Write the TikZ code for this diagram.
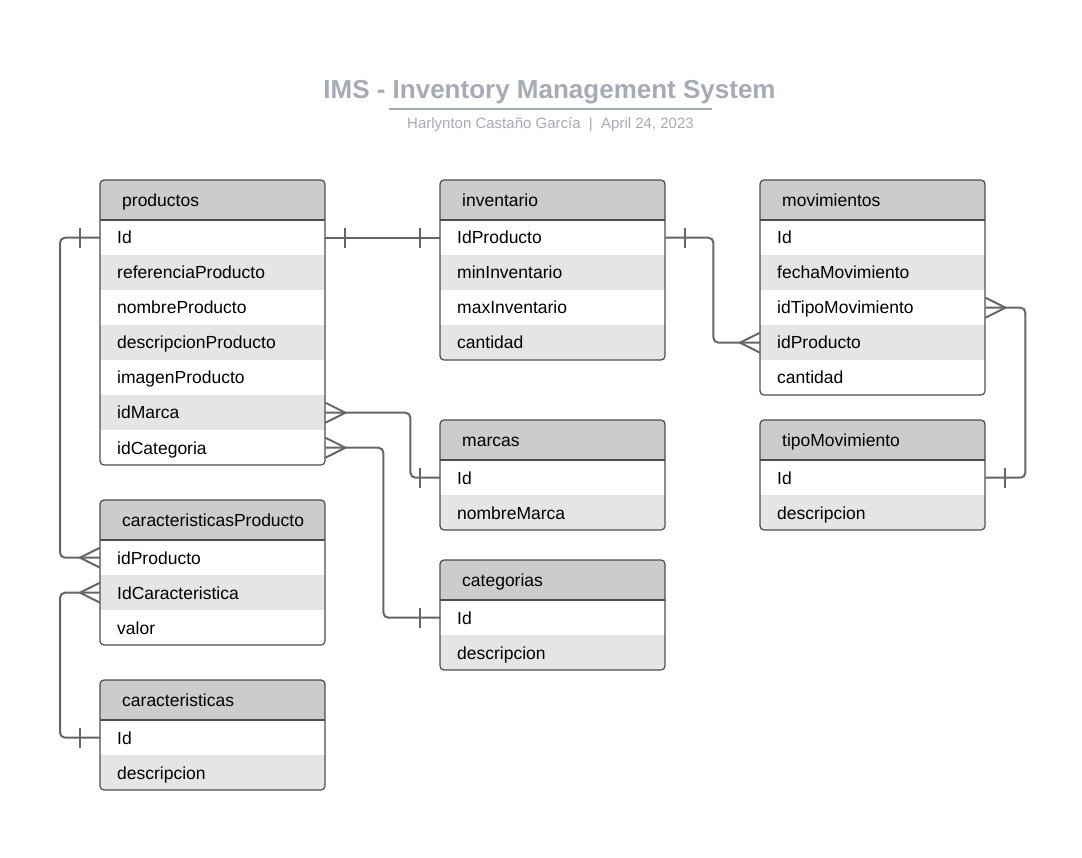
\documentclass[tikz,border=0pt]{standalone}
\usepackage{fontspec}
\setmainfont{Liberation Sans}
\usetikzlibrary{calc}
\definecolor{hdrfill}{HTML}{CCCCCC}
\definecolor{stripe}{HTML}{E5E5E5}
\definecolor{bordercol}{HTML}{4D4D4D}
\definecolor{conncol}{HTML}{666666}
\definecolor{titlecol}{HTML}{A6ABB5}
\tikzset{
  rowbox/.style={rectangle, inner xsep=17pt, inner ysep=0pt, text width=191pt,
    minimum height=35pt, align=left, anchor=north west,
    font=\fontsize{17.5}{20}\selectfont, text height=12.6pt, text depth=0pt},
  hdrbox/.style={rowbox, inner xsep=22pt, text width=181pt, minimum height=40pt},
  tabborder/.style={draw=bordercol, line width=1.2pt, rounded corners=4pt},
  conn/.style={draw=conncol, line width=2pt, rounded corners=5pt},
}
\newcommand\ertab[6]{%
  \begin{scope}
    \clip[rounded corners=4pt] (#2,#3) rectangle ++(225,{40+35*#5});
    \fill[hdrfill] (#2,#3) rectangle ++(225,40);
    \foreach \t [count=\i] in {#6} {
      \pgfmathsetmacro\yy{#3+40+35*(\i-1)}
      \ifodd\i \def\rf{white}\else\def\rf{stripe}\fi
      \node[rowbox, fill=\rf] (#1\i) at (#2,\yy) {\t};
    }
  \end{scope}
  \node[hdrbox] (#1h) at (#2,#3) {#4};
  \draw[tabborder] (#2,#3) rectangle ++(225,{40+35*#5});
  \draw[draw=bordercol, line width=1.2pt] (#2,{#3+40}) -- ++(225,0);
}
\newcommand\crow[2]{\draw[conn, rounded corners=0pt, line join=miter] ($(#1)+(0,-10)$) -- ($(#1)+(#2*20,0)$) -- ($(#1)+(0,10)$);}
\newcommand\onebar[2]{\draw[conn] ($(#1)+(#2,-10)$) -- ++(0,20);}
\begin{document}
\begin{tikzpicture}[x=1pt,y=-1pt]
\useasboundingbox (0,0) rectangle (1082,858);
\fill[white] (0,0) rectangle (1082,858);

\node[anchor=base, text=titlecol, font=\fontsize{26}{30}\selectfont\bfseries] (title) at (549.5,99) {IMS - Inventory Management System};
\draw[titlecol, line width=2pt] (389,109) -- (712,109);
\node[anchor=base, text=titlecol, font=\fontsize{15}{18}\selectfont] (subtitle) at (550.5,129) {Harlynton Castaño García\ \ |\ \ April 24, 2023};

\ertab{p}{100}{180}{productos}{7}{Id,referenciaProducto,nombreProducto,descripcionProducto,imagenProducto,idMarca,idCategoria}
\ertab{i}{440}{180}{inventario}{4}{IdProducto,minInventario,maxInventario,cantidad}
\ertab{mv}{760}{180}{movimientos}{5}{Id,fechaMovimiento,idTipoMovimiento,idProducto,cantidad}
\ertab{m}{440}{420}{marcas}{2}{Id,nombreMarca}
\ertab{t}{760}{420}{tipoMovimiento}{2}{Id,descripcion}
\ertab{k}{440}{560}{categorias}{2}{Id,descripcion}
\ertab{cp}{100}{500}{caracteristicasProducto}{3}{idProducto,IdCaracteristica,valor}
\ertab{c}{100}{680}{caracteristicas}{2}{Id,descripcion}

% productos.Id -- inventario.IdProducto
\draw[conn] (p1.east) -- (i1.west);
\onebar{p1.east}{20}
\onebar{i1.west}{-20}
% productos.Id -- caracteristicasProducto.idProducto
\draw[conn] (p1.west) -- ++(-40,0) |- (cp1.west);
\onebar{p1.west}{-20}
\crow{cp1.west}{-1}
% caracteristicas.Id -- caracteristicasProducto.IdCaracteristica
\draw[conn] (c1.west) -- ++(-40,0) |- (cp2.west);
\onebar{c1.west}{-20}
\crow{cp2.west}{-1}
% productos.idMarca -- marcas.Id
\draw[conn] (p6.east) -- ++(85,0) |- (m1.west);
\crow{p6.east}{1}
\onebar{m1.west}{-20}
% productos.idCategoria -- categorias.Id
\draw[conn] (p7.east) -- ++(58,0) |- (k1.west);
\crow{p7.east}{1}
\onebar{k1.west}{-20}
% inventario.IdProducto -- movimientos.idProducto
\draw[conn] (i1.east) -- ++(48,0) |- (mv4.west);
\onebar{i1.east}{20}
\crow{mv4.west}{-1}
% movimientos.idTipoMovimiento -- tipoMovimiento.Id
\draw[conn] (mv3.east) -- ++(40,0) |- (t1.east);
\crow{mv3.east}{1}
\onebar{t1.east}{20}
\end{tikzpicture}
\end{document}
